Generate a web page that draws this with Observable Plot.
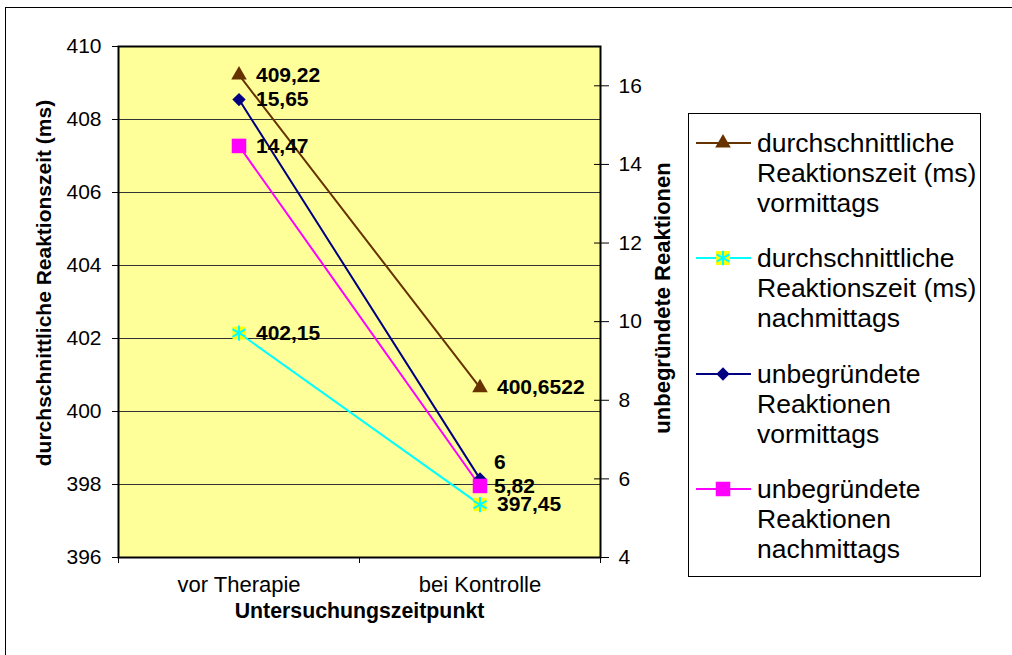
<!DOCTYPE html>
<html>
<head>
<meta charset="utf-8">
<script src="https://cdn.jsdelivr.net/npm/d3@7"></script>
<script src="https://cdn.jsdelivr.net/npm/@observablehq/plot@0.6"></script>
<style>
  html, body { margin: 0; padding: 0; background: #fff; }
  #wrap { position: relative; width: 1012px; height: 655px; overflow: hidden; font-family: "Liberation Sans", Arial, sans-serif; }
  #outer { position: absolute; left: 5px; top: 7px; width: 1020px; height: 700px; border: 1.5px solid #000; box-sizing: border-box; }
  #chart { position: absolute; left: 0; top: 0; }
  #legend { position: absolute; left: 688px; top: 113px; width: 293px; height: 464px; border: 1px solid #000; box-sizing: border-box; background: #fff; }
  .item { position: absolute; left: 0; width: 293px; }
  .item svg { position: absolute; left: 7px; top: 0; }
  .item .txt { position: absolute; left: 68px; top: 0; font-size: 26.5px; line-height: 30px; color: #000; white-space: nowrap; }
</style>
</head>
<body>
<div id="wrap">
  <div id="outer"></div>
  <div id="chart"></div>
  <div id="legend"></div>
</div>
<script>
// ---- data ----
const categories = ["vor Therapie", "bei Kontrolle"];
const seriesNames = [
  "durchschnittliche Reaktionszeit (ms) vormittags",
  "durchschnittliche Reaktionszeit (ms) nachmittags",
  "unbegründete Reaktionen vormittags",
  "unbegründete Reaktionen nachmittags"
];
const reaktionszeitVormittags = [409.22, 400.6522];   // left axis
const reaktionszeitNachmittags = [402.15, 397.45];    // left axis
const unbegruendetVormittags = [15.65, 6];            // right axis
const unbegruendetNachmittags = [14.47, 5.82];        // right axis
const labelsRtVorm = ["409,22", "400,6522"];
const labelsRtNach = ["402,15", "397,45"];
const labelsUrVorm = ["15,65", "6"];
const labelsUrNach = ["14,47", "5,82"];
const leftTicks = [396, 398, 400, 402, 404, 406, 408, 410];
const rightTicks = [4, 6, 8, 10, 12, 14, 16];
const leftDomain = [396, 410];
const rightDomain = [4, 17];
const xTitle = "Untersuchungszeitpunkt";
const leftTitle = "durchschnittliche Reaktionszeit (ms)";
const rightTitle = "unbegründete Reaktionen";

// ---- styles ----
const colors = ["#663300", "#00FFFF", "#000080", "#FF00FF"];
const legendLines = [
  ["durchschnittliche", "Reaktionszeit (ms)", "vormittags"],
  ["durchschnittliche", "Reaktionszeit (ms)", "nachmittags"],
  ["unbegründete", "Reaktionen", "vormittags"],
  ["unbegründete", "Reaktionen", "nachmittags"]
];

// map right-axis values into the left-axis coordinate space
const r2l = d3.scaleLinear(rightDomain, leftDomain);

const rows = [];
const add = (s, vals, labels, axis) => vals.forEach((v, i) => rows.push({
  series: s, cat: categories[i], raw: v, value: axis === "right" ? r2l(v) : v, label: labels[i], idx: i
}));
add(seriesNames[0], reaktionszeitVormittags, labelsRtVorm, "left");
add(seriesNames[1], reaktionszeitNachmittags, labelsRtNach, "left");
add(seriesNames[2], unbegruendetVormittags, labelsUrVorm, "right");
add(seriesNames[3], unbegruendetNachmittags, labelsUrNach, "right");
const of = s => rows.filter(d => d.series === s);

const W = 1012, H = 655;
const mL = 118, mR = 412, mT = 46, mB = 98;
const bw = (W - mL - mR) / categories.length;
const font = "'Liberation Sans', Arial, sans-serif";

const labelDy = (d) => (d.series === seriesNames[2] && d.idx === 1) ? -17 : 0;
const labelDx = (d) => ((d.series === seriesNames[2] || d.series === seriesNames[3]) && d.idx === 1) ? 14 : 17;

const textMarks = rows.map(d => Plot.text([d], {
  x: "cat", y: "value", text: "label", textAnchor: "start",
  dx: labelDx(d), dy: labelDy(d), fontWeight: "bold", fontSize: 21, fill: "#000"
}));

const chart = Plot.plot({
  width: W, height: H,
  marginLeft: mL, marginRight: mR, marginTop: mT, marginBottom: mB,
  style: { fontFamily: font, background: "transparent", color: "#000" },
  x: { type: "band", domain: categories, padding: 0, axis: null },
  y: { domain: leftDomain, axis: null },
  marks: [
    Plot.frame({ fill: "#FFFF99", stroke: "none" }),
    Plot.gridY(leftTicks.slice(1, -1), { stroke: "#333", strokeOpacity: 1, strokeWidth: 1 }),
    Plot.frame({ stroke: "#000", strokeWidth: 2 }),
    // left axis
    Plot.axisY(leftTicks, { anchor: "left", tickSize: 6, tickPadding: 11, fontSize: 21, label: null, stroke: "#000" }),
    // right axis (values in right units, positioned via mapping)
    Plot.axisY(rightTicks.map(r2l), { anchor: "right", tickSize: 8, tickPadding: 10, fontSize: 21, label: null,
      tickFormat: v => String(Math.round(r2l.invert(v))) }),
    Plot.axisY(rightTicks.map(r2l), { anchor: "right", tickSize: 7, dx: -7, tickFormat: () => "", label: null }),
    // x axis: labels at category centers, ticks at band boundaries
    Plot.axisX(categories, { anchor: "bottom", tickSize: 0, tickPadding: 19, fontSize: 22, label: null }),
    Plot.axisX(categories, { anchor: "bottom", tickSize: 6, dx: -bw / 2, tickFormat: () => "", label: null }),
    Plot.axisX(categories.slice(-1), { anchor: "bottom", tickSize: 6, dx: bw / 2, tickFormat: () => "", label: null }),
    // axis titles
    Plot.text([xTitle], { frameAnchor: "bottom", dy: 54, fontWeight: "bold", fontSize: 21.3, lineAnchor: "middle", textAnchor: "middle" }),
    Plot.text([leftTitle], { frameAnchor: "left", dx: -74, dy: -19, rotate: -90, fontWeight: "bold", fontSize: 21, lineAnchor: "middle", textAnchor: "middle" }),
    Plot.text([rightTitle], { frameAnchor: "right", dx: 62, dy: -4, rotate: -90, fontWeight: "bold", fontSize: 22, lineAnchor: "middle", textAnchor: "middle" }),
    // series lines
    Plot.line(of(seriesNames[0]), { x: "cat", y: "value", stroke: colors[0], strokeWidth: 2 }),
    Plot.line(of(seriesNames[1]), { x: "cat", y: "value", stroke: colors[1], strokeWidth: 2 }),
    Plot.line(of(seriesNames[2]), { x: "cat", y: "value", stroke: colors[2], strokeWidth: 2 }),
    Plot.line(of(seriesNames[3]), { x: "cat", y: "value", stroke: colors[3], strokeWidth: 2 }),
    // markers
    Plot.dot(of(seriesNames[0]), { x: "cat", y: "value", symbol: "triangle", r: 5.8, fill: colors[0], stroke: "none" }),
    Plot.dot(of(seriesNames[1]), { x: "cat", y: "value", symbol: "square", r: 7.3, fill: "#FFFF00", stroke: "none" }),
    Plot.dot(of(seriesNames[1]), { x: "cat", y: "value", symbol: "asterisk", r: 7.2, fill: "none", stroke: colors[1], strokeWidth: 2 }),
    Plot.dot(of(seriesNames[2]), { x: "cat", y: "value", symbol: "diamond2", r: 6, fill: colors[2], stroke: "none" }),
    Plot.dot(of(seriesNames[3]), { x: "cat", y: "value", symbol: "square", r: 8.2, fill: colors[3], stroke: "none" }),
    // data labels
    ...textMarks
  ]
});
document.getElementById("chart").appendChild(chart);

// ---- legend ----
const legend = d3.select("#legend");
const itemTops = [14, 129, 245, 360];
const symbols = [d3.symbolTriangle, null, d3.symbolDiamond2, d3.symbolSquare];
const symSizes = [106, 0, 113, 211];
seriesNames.forEach((s, i) => {
  const it = legend.append("div").attr("class", "item").style("top", itemTops[i] + "px");
  const svg = it.append("svg").attr("width", 56).attr("height", 30);
  svg.append("line").attr("x1", 0).attr("x2", 55).attr("y1", 15).attr("y2", 15)
    .attr("stroke", colors[i]).attr("stroke-width", 2);
  const g = svg.append("g").attr("transform", "translate(27,15)");
  if (i === 1) {
    g.append("rect").attr("x", -7).attr("y", -7).attr("width", 14).attr("height", 14).attr("fill", "#FFFF00");
    g.append("path").attr("d", d3.symbol(d3.symbolAsterisk, 150)()).attr("stroke", colors[1]).attr("stroke-width", 2).attr("fill", "none");
  } else {
    g.append("path").attr("d", d3.symbol(symbols[i], symSizes[i])()).attr("fill", colors[i]);
  }
  it.append("div").attr("class", "txt").html(legendLines[i].join("<br>"));
});
</script>
</body>
</html>
